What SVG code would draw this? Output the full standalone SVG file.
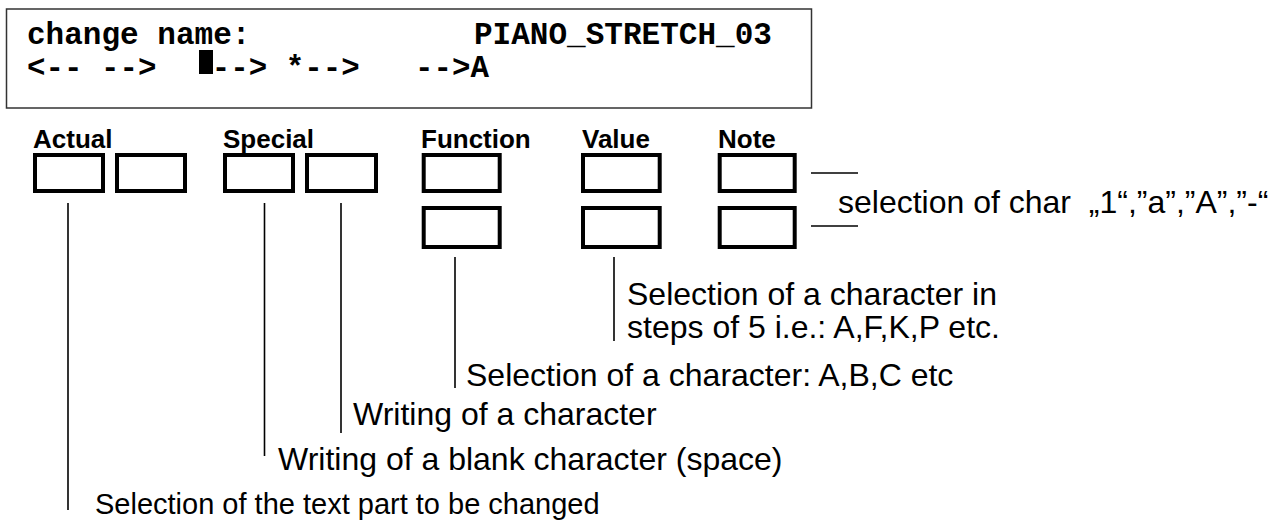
<svg xmlns="http://www.w3.org/2000/svg" width="1284" height="522" viewBox="0 0 1284 522">
<style>
.mono{font-family:"Liberation Mono","Courier New",monospace;font-weight:bold;font-size:30.5px;fill:#000}
.lbl{font-family:"Liberation Sans",Arial,sans-serif;font-weight:bold;font-size:26px;fill:#000}
.txt{font-family:"Liberation Sans",Arial,sans-serif;font-size:32px;fill:#000}
.key{fill:#fff;stroke:#000;stroke-width:4}
.ln{stroke:#000;stroke-width:1.6;fill:none}
</style>
<rect width="1284" height="522" fill="#fff"/>
<g id="display">
<rect x="6.5" y="9" width="805" height="99" fill="#fff" stroke="#333" stroke-width="1.5"/>
<text class="mono" x="27" y="44" xml:space="preserve" textLength="745" lengthAdjust="spacingAndGlyphs">change name:            PIANO_STRETCH_03</text>
<text class="mono" x="27" y="77" xml:space="preserve" textLength="462" lengthAdjust="spacingAndGlyphs">&lt;-- --&gt;   --&gt; *--&gt;   --&gt;A</text>
<rect x="199" y="50" width="14" height="24" fill="#000"/>
</g>
<g id="actual">
<text class="lbl" x="33" y="148">Actual</text>
<rect class="key" x="35" y="155" width="68" height="36"/>
<rect class="key" x="117" y="155" width="68" height="36"/>
</g>
<g id="special">
<text class="lbl" x="223" y="148">Special</text>
<rect class="key" x="225" y="155" width="68" height="36"/>
<rect class="key" x="307" y="155" width="69" height="36"/>
</g>
<g id="function">
<text class="lbl" x="421" y="148">Function</text>
<rect class="key" x="423.7" y="155" width="76" height="36"/>
<rect class="key" x="423.7" y="208" width="76" height="39"/>
</g>
<g id="value">
<text class="lbl" x="582" y="148">Value</text>
<rect class="key" x="583" y="155" width="76.7" height="36"/>
<rect class="key" x="583" y="208" width="76.7" height="39"/>
</g>
<g id="note">
<text class="lbl" x="718" y="148">Note</text>
<rect class="key" x="719.7" y="155" width="75" height="36"/>
<rect class="key" x="719.7" y="208" width="75" height="39"/>
</g>
<g id="connectors">
<line class="ln" x1="68" y1="203" x2="68" y2="510"/>
<line class="ln" x1="264.5" y1="203" x2="264.5" y2="456"/>
<line class="ln" x1="341" y1="203" x2="341" y2="433"/>
<line class="ln" x1="455" y1="257" x2="455" y2="388"/>
<line class="ln" x1="614" y1="257" x2="614" y2="341"/>
<line class="ln" x1="811" y1="173" x2="858" y2="173"/>
<line class="ln" x1="811" y1="226" x2="858" y2="226"/>
</g>
<g id="labels">
<text class="txt" x="838" y="213" xml:space="preserve">selection of char  „1“,”a”,”A”,”-“</text>
<text class="txt" x="627" y="305">Selection of a character in</text>
<text class="txt" x="627" y="338">steps of 5 i.e.: A,F,K,P etc.</text>
<text class="txt" x="466" y="386">Selection of a character: A,B,C etc</text>
<text class="txt" x="353" y="425">Writing of a character</text>
<text class="txt" x="278" y="470">Writing of a blank character (space)</text>
<text class="txt" x="95" y="514" style="font-size:29px">Selection of the text part to be changed</text>
</g>
</svg>
